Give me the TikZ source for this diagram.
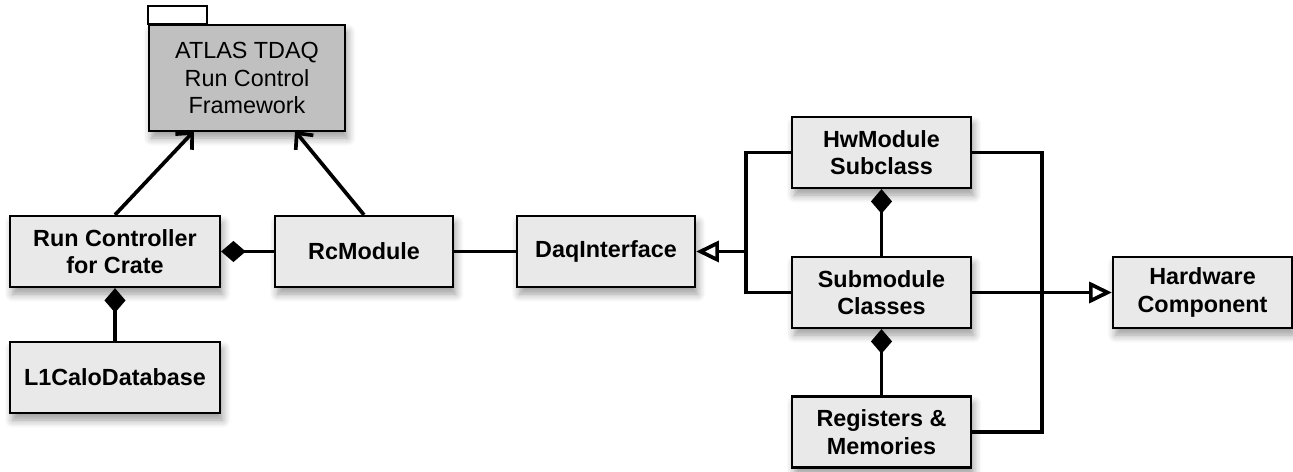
\documentclass[tikz,border=0pt]{standalone}
\usepackage{fontspec}
\setmainfont{Liberation Sans}
\usepackage{tikz}
\usetikzlibrary{arrows.meta, positioning, shapes, shadows.blur}
\definecolor{boxgray}{RGB}{233,233,233}
\definecolor{pkggray}{RGB}{192,192,192}

\begin{document}
\begin{tikzpicture}[x=0.02cm, y=-0.02cm,
    classbox/.style={rectangle, draw, line width=1.3pt, fill=boxgray, minimum height=1.42cm, align=center,
        font=\fontsize{13.3}{15.6}\selectfont\bfseries,
        blur shadow={shadow xshift=1.5pt, shadow yshift=-4pt, shadow blur steps=6, shadow blur radius=4.5pt}},
    pkgbox/.style={classbox, fill=pkggray, font=\fontsize{13.3}{15.6}\selectfont},
    link/.style={line width=2.1pt},
    uses/.style={link, -{Straight Barb[length=7pt, width=13pt, line width=2.1pt]}},
    comp/.style={link, -{Diamond[length=14pt, width=12pt]}},
    gen/.style={link, -{Triangle[open, fill=white, length=13pt, width=12pt, line width=2.1pt]}}
]
\useasboundingbox (0,0) rectangle (1293,472);
% Framework package
\node[pkgbox, minimum width=3.92cm, minimum height=2.12cm] (framework) at (247,78) {ATLAS TDAQ\\Run Control\\Framework};
\draw[line width=1.3pt, fill=white] (framework.north west) rectangle ++(59,-18);
% Left group
\node[classbox, minimum width=4.2cm] (runctl) at (115,251.5) {Run Controller\\for Crate};
\node[classbox, minimum width=3.56cm] (rcmod) at (364,251.5) {RcModule};
\node[classbox, minimum width=4.2cm] (calodb) at (115,377.5) {L1CaloDatabase};
\node[classbox, minimum width=3.56cm] (daqif) at (606,251.5) {DaqInterface};
% Right group
\node[classbox, minimum width=3.58cm] (hwsub) at (881.5,152.5) {HwModule\\Subclass};
\node[classbox, minimum width=3.58cm] (submod) at (881.5,292.5) {Submodule\\Classes};
\node[classbox, minimum width=3.58cm] (regmem) at (881.5,432) {Registers \&\\Memories};
\node[classbox, minimum width=3.58cm] (hwcomp) at (1202.5,292.5) {Hardware\\Component};
\coordinate (leftjoin) at (746,251.5);
\coordinate (rightjoin) at (1042,292.5);
\coordinate (fwleft) at (194,131);
\coordinate (fwright) at (295,131);
% Relations
\draw[uses] (runctl.north) -- (fwleft);
\draw[uses] (rcmod.north) -- (fwright);
\draw[comp] (rcmod.west) -- (runctl.east);
\draw[comp] (calodb.north) -- (runctl.south);
\draw[link] (rcmod.east) -- (daqif.west);
\draw[link] (hwsub.west) -| (leftjoin) |- (submod.west);
\draw[gen] (leftjoin) -- (daqif.east);
\draw[link] (hwsub.east) -| (rightjoin) |- (regmem.east);
\draw[gen] (submod.east) -- (hwcomp.west);
\draw[comp] (submod.north) -- (hwsub.south);
\draw[comp] (regmem.north) -- (submod.south);
\end{tikzpicture}
\end{document}
